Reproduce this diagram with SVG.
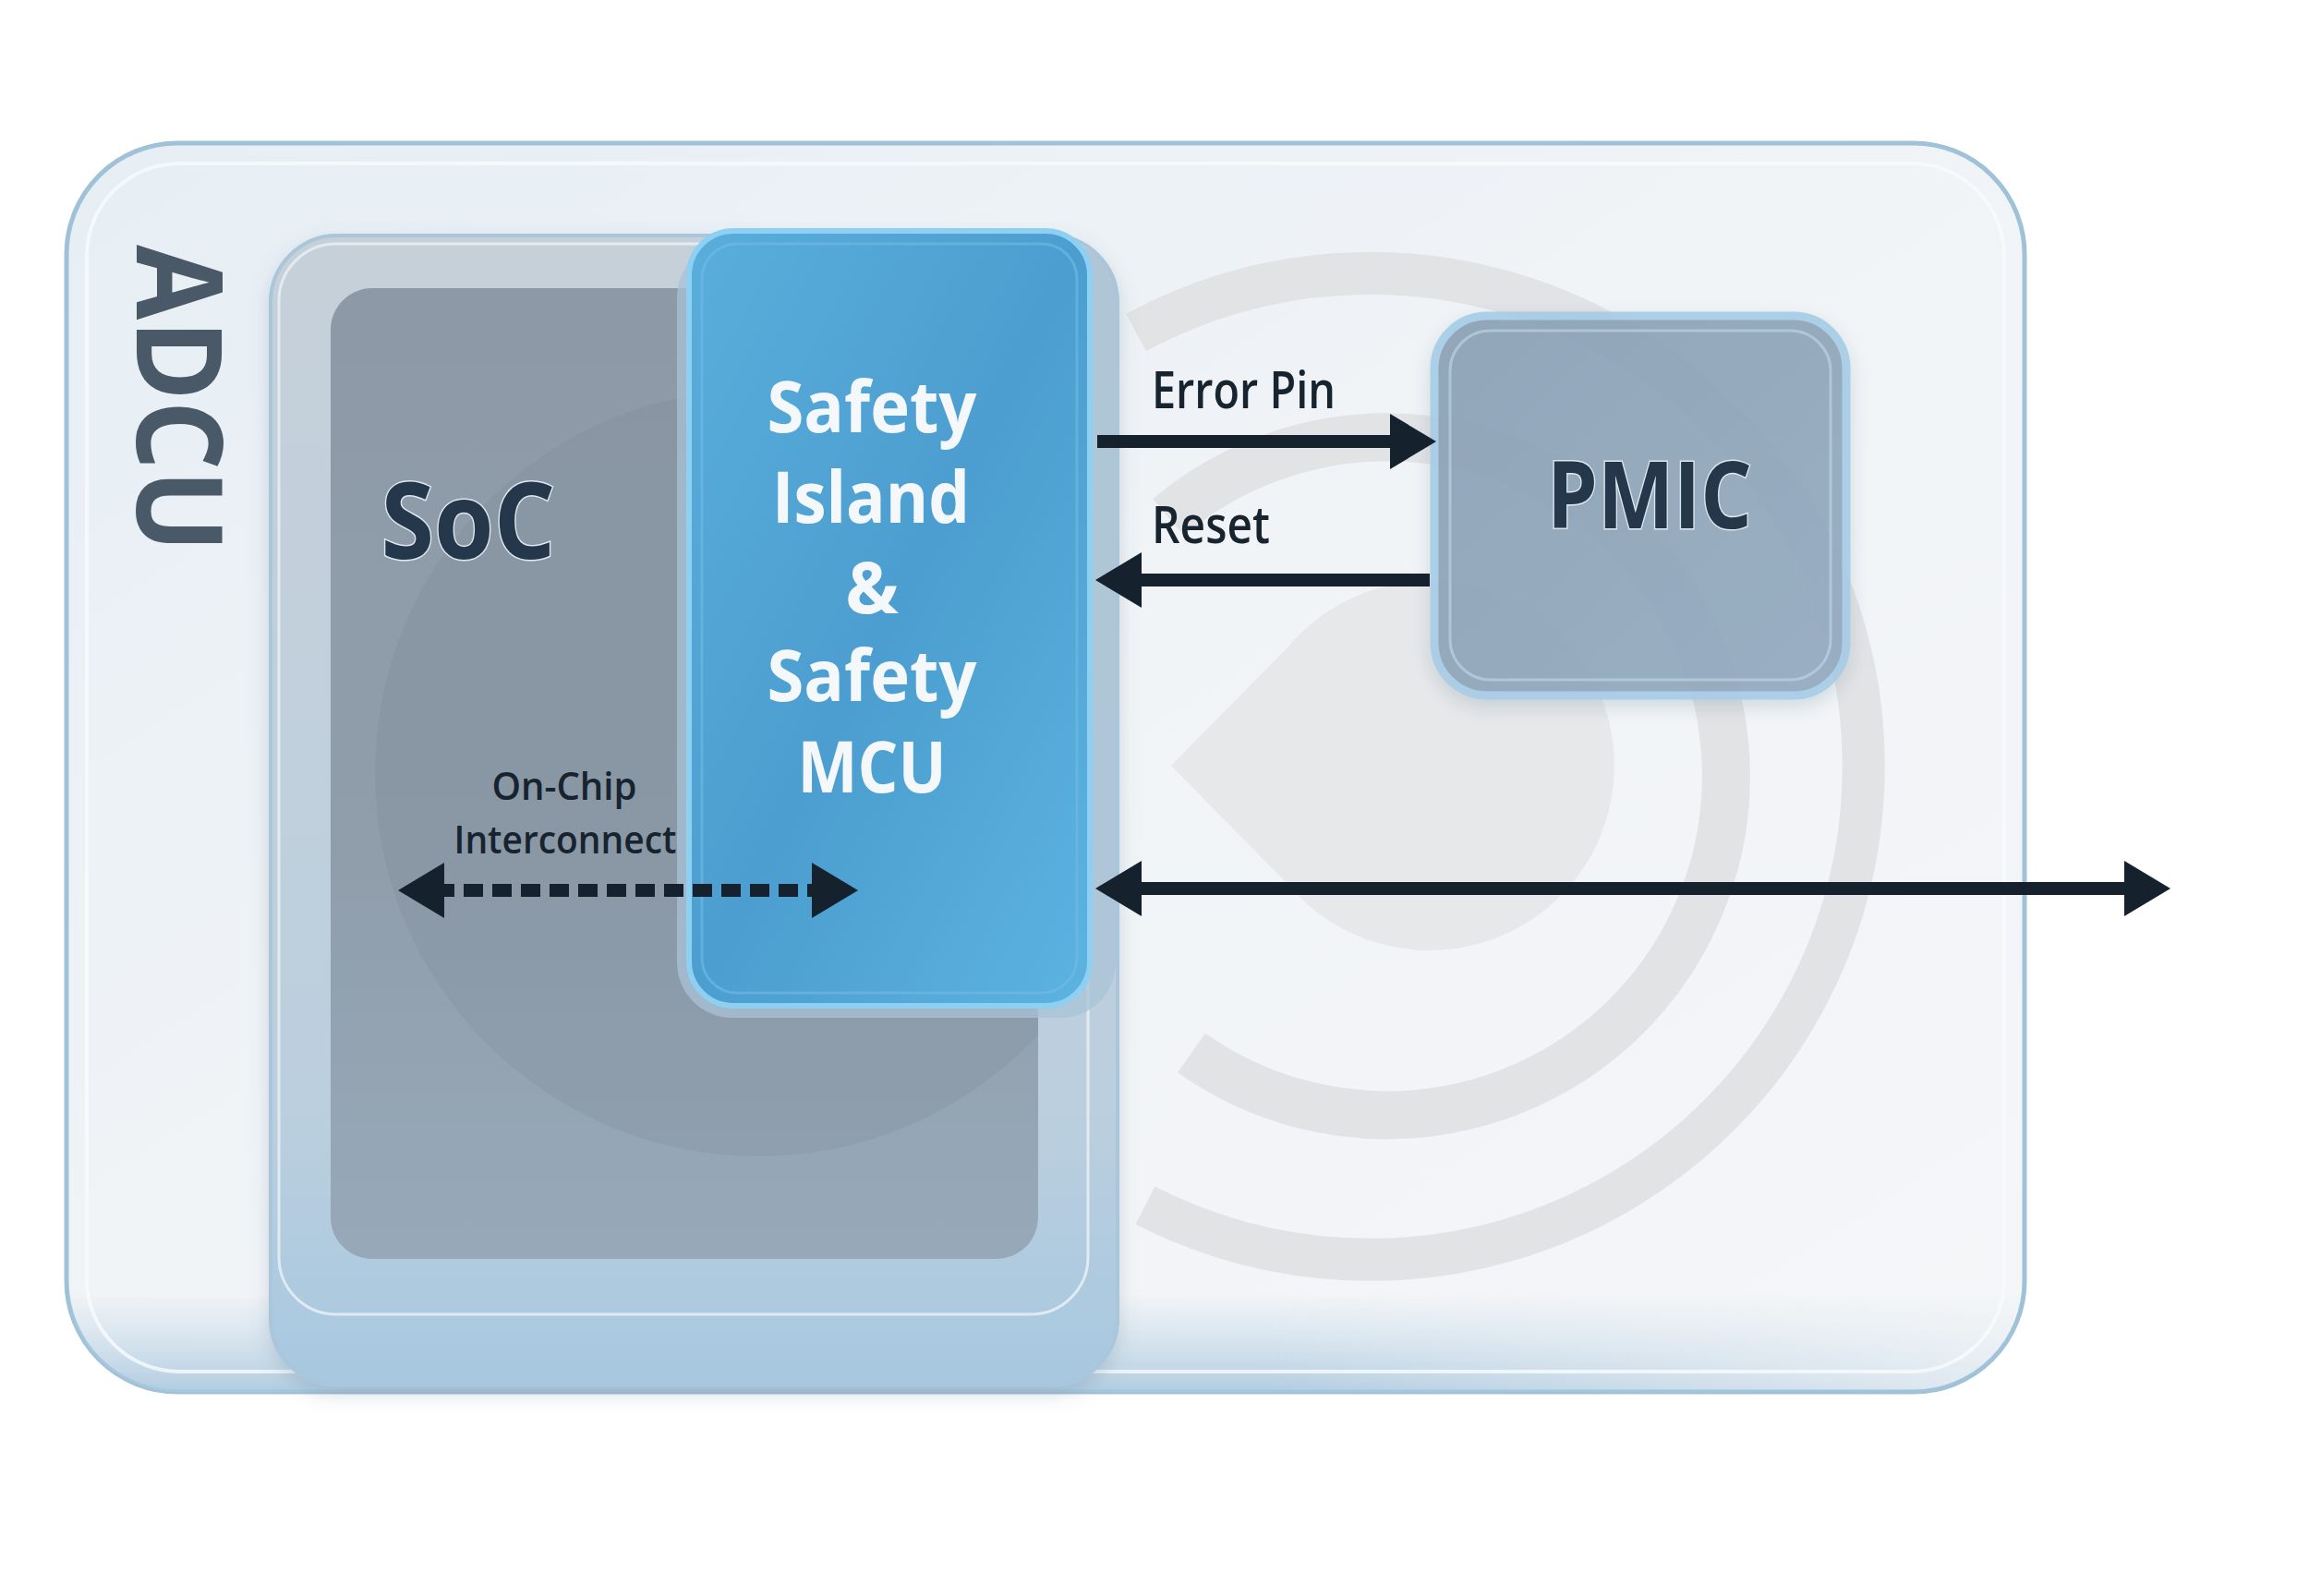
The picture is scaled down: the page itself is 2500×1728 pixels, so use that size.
<svg xmlns="http://www.w3.org/2000/svg" width="2500" height="1728" viewBox="0 0 2500 1728">
  <defs>
    <style>
      .lbl { font-family: "Open Sans", "Noto Sans", "Liberation Sans", sans-serif; fill: #17232f; }
      .big { font-family: "Open Sans", "Noto Sans", "Liberation Sans", sans-serif; font-weight: 700; fill: #25374a; paint-order: stroke; stroke: #dfe7ee; stroke-width: 3; }
      .white { font-family: "Open Sans", "Noto Sans", "Liberation Sans", sans-serif; font-weight: 700; fill: #f4f8fb; font-size: 77px; text-anchor: middle; }
      .wire { stroke: #15212d; stroke-width: 14; fill: none; }
      .ring { fill: none; stroke: #e1e3e5; }
    </style>
    <linearGradient id="panelFill" x1="0" y1="0" x2="1" y2="1">
      <stop offset="0" stop-color="#e6eef4"/>
      <stop offset="0.5" stop-color="#f1f4f7"/>
      <stop offset="1" stop-color="#f4f6f8"/>
    </linearGradient>
    <linearGradient id="panelBottom" x1="0" y1="0" x2="0" y2="1">
      <stop offset="0" stop-color="#b9d2e4" stop-opacity="0"/>
      <stop offset="1" stop-color="#a8c6dd" stop-opacity="0.9"/>
    </linearGradient>
    <linearGradient id="panelBottomH" x1="0" y1="0" x2="1" y2="0">
      <stop offset="0" stop-color="#fff" stop-opacity="1"/>
      <stop offset="0.55" stop-color="#fff" stop-opacity="1"/>
      <stop offset="1" stop-color="#fff" stop-opacity="0"/>
    </linearGradient>
    <mask id="bottomMask">
      <rect x="0" y="0" width="2500" height="1728" fill="url(#panelBottomH)"/>
    </mask>
    <linearGradient id="socFrame" x1="0" y1="0" x2="0" y2="1">
      <stop offset="0" stop-color="#c6d0d9"/>
      <stop offset="0.75" stop-color="#bccfde"/>
      <stop offset="1" stop-color="#a7c8e0"/>
    </linearGradient>
    <linearGradient id="socCore" x1="0" y1="0" x2="0" y2="1">
      <stop offset="0" stop-color="#8d99a6"/>
      <stop offset="0.6" stop-color="#909eac"/>
      <stop offset="1" stop-color="#97a9b9"/>
    </linearGradient>
    <linearGradient id="islandFill" x1="0" y1="0" x2="1" y2="1">
      <stop offset="0" stop-color="#5aaedb"/>
      <stop offset="0.5" stop-color="#4b9ecf"/>
      <stop offset="1" stop-color="#5cb3e0"/>
    </linearGradient>
    <linearGradient id="pmicFill" x1="0" y1="0" x2="1" y2="1">
      <stop offset="0" stop-color="#8aa0b4"/>
      <stop offset="1" stop-color="#93aabf"/>
    </linearGradient>
    <clipPath id="panelClip">
      <rect x="72" y="155" width="2120" height="1352" rx="120"/>
    </clipPath>
    <clipPath id="coreClip">
      <rect x="358" y="312" width="766" height="1051" rx="45"/>
    </clipPath>
    <filter id="soft" x="-10%" y="-10%" width="120%" height="120%">
      <feDropShadow dx="0" dy="8" stdDeviation="10" flood-color="#5d7a92" flood-opacity="0.25"/>
    </filter>
    <marker id="ah" viewBox="0 0 50 60" markerWidth="50" markerHeight="60" refX="10" refY="30" orient="auto-start-reverse" markerUnits="userSpaceOnUse">
      <path d="M0,0 L50,30 L0,60 Z" fill="#15212d"/>
    </marker>
  </defs>

  <rect x="0" y="0" width="2500" height="1728" fill="#ffffff"/>

  <g id="adcu">
    <rect x="72" y="155" width="2120" height="1352" rx="120" fill="url(#panelFill)" stroke="#9fc2d8" stroke-width="5"/>
    <g clip-path="url(#panelClip)">
      <rect x="72" y="1400" width="2120" height="110" fill="url(#panelBottom)" mask="url(#bottomMask)"/>
      <path class="ring" stroke-width="46" d="M1230,360 A534,534 0 1 1 1240,1305"/>
      <path class="ring" stroke-width="52" d="M1265,560 A367,367 0 1 1 1290,1140"/>
      <path d="M1268,829 L1395,700 A200,200 0 1 1 1395,958 Z" fill="#e6e8ea"/>
    </g>
    <rect x="94" y="177" width="2076" height="1308" rx="100" fill="none" stroke="#f8fbfd" stroke-width="4" opacity="0.8"/>
    <text x="0" y="0" transform="translate(148,265) rotate(90)" font-family="'Open Sans','Noto Sans','Liberation Sans',sans-serif" font-weight="700" font-size="130" fill="#4a5968" stroke="#e9f0f5" stroke-width="3" paint-order="stroke" textLength="333" lengthAdjust="spacingAndGlyphs">ADCU</text>
  </g>

  <g id="soc">
    <rect x="293" y="255" width="917" height="1245" rx="72" fill="url(#socFrame)" stroke="#a9c6da" stroke-width="4" filter="url(#soft)"/>
    <rect x="302" y="264" width="876" height="1159" rx="62" fill="none" stroke="#e6edf3" stroke-width="3" opacity="0.9"/>
    <rect x="358" y="312" width="766" height="1051" rx="45" fill="url(#socCore)"/>
    <circle cx="821" cy="837" r="415" fill="#6d7a88" opacity="0.14" clip-path="url(#coreClip)"/>
    <text class="big" x="507" y="605" font-size="114" text-anchor="middle" textLength="189" lengthAdjust="spacingAndGlyphs">SoC</text>
  </g>

  <g id="safety-island">
    <rect x="733" y="262" width="475" height="840" rx="60" fill="#a8c3d6" opacity="0.75"/>
    <rect x="746" y="250" width="434" height="839" rx="48" fill="url(#islandFill)" stroke="#8dd0f1" stroke-width="6"/>
    <rect x="760" y="264" width="406" height="811" rx="38" fill="none" stroke="#6fbde6" stroke-width="3" opacity="0.6"/>
    <text class="white" x="944" y="468" textLength="227" lengthAdjust="spacingAndGlyphs">Safety</text>
    <text class="white" x="943" y="566" textLength="214" lengthAdjust="spacingAndGlyphs">Island</text>
    <text class="white" x="944" y="664">&amp;</text>
    <text class="white" x="944" y="759" textLength="227" lengthAdjust="spacingAndGlyphs">Safety</text>
    <text class="white" x="944" y="858" textLength="161" lengthAdjust="spacingAndGlyphs">MCU</text>
  </g>

  <g id="pmic">
    <rect x="1553" y="342" width="446" height="411" rx="57" fill="url(#pmicFill)" opacity="0.92" stroke="#a6cce6" stroke-width="9" filter="url(#soft)"/>
    <rect x="1570" y="358" width="412" height="378" rx="44" fill="none" stroke="#b9d3e4" stroke-width="3" opacity="0.7"/>
    <text class="big" x="1786" y="572" font-size="100" text-anchor="middle" textLength="222" lengthAdjust="spacingAndGlyphs">PMIC</text>
  </g>

  <g id="connectors">
    <line class="wire" x1="1188" y1="478" x2="1515" y2="478" marker-end="url(#ah)"/>
    <line class="wire" x1="1548" y1="628" x2="1226" y2="628" marker-end="url(#ah)"/>
    <line class="wire" x1="1226" y1="962" x2="2310" y2="962" marker-start="url(#ah)" marker-end="url(#ah)"/>
    <line class="wire" x1="471" y1="964" x2="889" y2="964" stroke-width="13" stroke-dasharray="21 10" marker-start="url(#ah)" marker-end="url(#ah)"/>
    <text class="lbl" x="1247" y="442" font-size="56" font-weight="600" textLength="199" lengthAdjust="spacingAndGlyphs">Error Pin</text>
    <text class="lbl" x="1247" y="588" font-size="56" font-weight="600" textLength="128" lengthAdjust="spacingAndGlyphs">Reset</text>
    <text class="lbl" x="611" y="866" font-size="42" font-weight="600" text-anchor="middle" textLength="157" lengthAdjust="spacingAndGlyphs">On-Chip</text>
    <text class="lbl" x="612" y="924" font-size="42" font-weight="600" text-anchor="middle" textLength="241" lengthAdjust="spacingAndGlyphs">Interconnect</text>
  </g>
</svg>
